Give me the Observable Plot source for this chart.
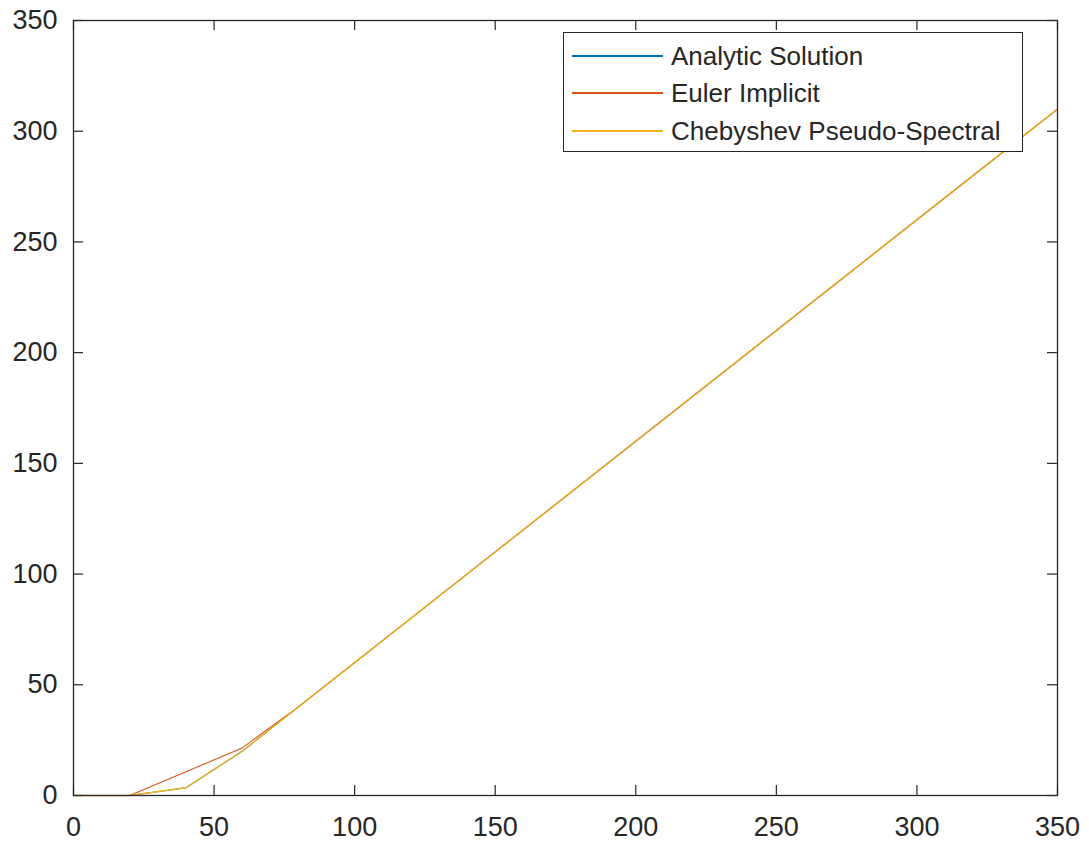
<!DOCTYPE html>
<html>
<head>
<meta charset="utf-8">
<script src="https://cdn.jsdelivr.net/npm/d3@7"></script>
<script src="https://cdn.jsdelivr.net/npm/@observablehq/plot@0.6"></script>
<style>
  html, body { margin: 0; padding: 0; background: #fff; }
  #wrap { position: relative; width: 1089px; height: 848px; }
  #legend {
    position: absolute; left: 563px; top: 32px; width: 460px; height: 120px;
    border: 1.3px solid #262626; background: #fff; box-sizing: border-box;
    font-family: "Liberation Sans", Arial, sans-serif; font-size: 26px; color: #262626;
  }
  .row { position: absolute; left: 8px; height: 30px; display: flex; align-items: center; }
  .sw { width: 91px; height: 1.5px; margin-right: 8px; }
</style>
</head>
<body>
<div id="wrap"><div id="chart"></div><div id="legend"></div></div>
<script>
const xs       = [0, 20, 40,   60,   80, 100, 150, 200, 250, 300, 350];
const analytic = [0,  0, 3.5,  20,   40,  60, 110, 160, 210, 260, 310];
const euler    = [0,  0, 10.7, 21.5, 40,  60, 110, 160, 210, 260, 310];
const cheb     = [0,  0, 3.5,  20,   40,  60, 110, 160, 210, 260, 310];
const seriesNames = ["Analytic Solution", "Euler Implicit", "Chebyshev Pseudo-Spectral"];
const seriesColors = ["#0072BD", "#D95319", "#EDB120"];
const xTicks = [0, 50, 100, 150, 200, 250, 300, 350];
const yTicks = [0, 50, 100, 150, 200, 250, 300, 350];

const W = 1089, H = 848, mL = 73, mR = 32, mT = 20, mB = 53;
const pw = W - mL - mR, ph = H - mT - mB;
const series = [analytic, euler, cheb].map((ys, i) => xs.map((x, j) => ({x, y: ys[j], s: seriesNames[i]})));
const ink = "#262626";
const tl = 10;

const chart = Plot.plot({
  width: W, height: H,
  marginLeft: mL, marginRight: mR, marginTop: mT, marginBottom: mB,
  style: {fontFamily: '"Liberation Sans", Arial, sans-serif', fontSize: "27px", color: ink, background: "#fff"},
  x: {domain: [0, 350]},
  y: {domain: [0, 350]},
  marks: [
    ...series.map((d, i) => Plot.line(d, {x: "x", y: "y", stroke: seriesColors[i], strokeWidth: i === 2 ? 1.4 : 1.1})),
    Plot.frame({stroke: ink, strokeWidth: 1.3}),
    Plot.tickX(xTicks, {x: d => d, insetTop: ph - tl, stroke: ink, strokeWidth: 1.2}),
    Plot.tickX(xTicks, {x: d => d, insetBottom: ph - tl, stroke: ink, strokeWidth: 1.2}),
    Plot.tickY(yTicks, {y: d => d, insetRight: pw - tl, stroke: ink, strokeWidth: 1.2}),
    Plot.tickY(yTicks, {y: d => d, insetLeft: pw - tl, stroke: ink, strokeWidth: 1.2}),
    Plot.axisX({ticks: xTicks, tickSize: 0, tickPadding: 21, label: null, fill: ink}),
    Plot.axisY({ticks: yTicks, tickSize: 0, tickPadding: 16, label: null, fill: ink})
  ]
});
document.getElementById("chart").appendChild(chart);

const leg = document.getElementById("legend");
const rowTops = [8, 45, 83];
seriesNames.forEach((n, i) => {
  const r = document.createElement("div");
  r.className = "row";
  r.style.top = rowTops[i] + "px";
  const sw = document.createElement("div");
  sw.className = "sw";
  sw.style.background = seriesColors[i];
  const t = document.createElement("span");
  t.textContent = n;
  r.appendChild(sw); r.appendChild(t);
  leg.appendChild(r);
});
</script>
</body>
</html>
